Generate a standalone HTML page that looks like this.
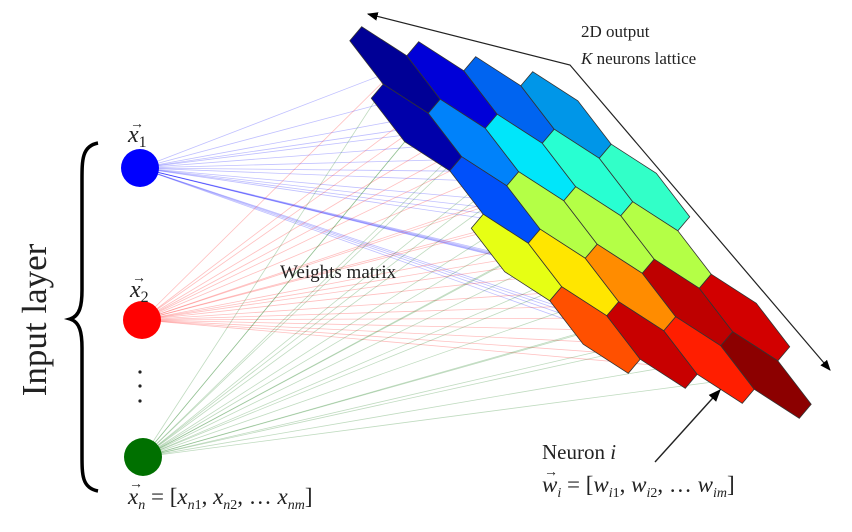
<!DOCTYPE html>
<html><head><meta charset="utf-8">
<style>
html,body{margin:0;padding:0;background:#fff;}
svg{display:block;font-family:"Liberation Serif",serif;}
</style></head>
<body>
<svg id="fig" width="852" height="532" viewBox="0 0 852 532" xmlns="http://www.w3.org/2000/svg">
<defs>
<marker id="ah" viewBox="0 0 10 10" refX="9" refY="5" markerWidth="9" markerHeight="9" orient="auto-start-reverse"><path d="M0,1 L10,5 L0,9 z" fill="#000"/></marker>
</defs>
<g id="links"></g>
<g id="lattice"></g>
<g id="nodes"></g>
<polyline points="368,14 570,65 830,370" fill="none" stroke="#222" stroke-width="1.2" marker-start="url(#ah)" marker-end="url(#ah)"/>
<line x1="655" y1="462" x2="720" y2="390" stroke="#222" stroke-width="1.4" marker-end="url(#ah)"/>
<path d="M98,143 C82,146 82,160 82,180 L82,290 C82,305 80,316 70,319 C80,322 82,333 82,348 L82,455 C82,475 82,488 98,491" fill="none" stroke="#000" stroke-width="3.5"/>
<text transform="translate(46,320) rotate(-90)" text-anchor="middle" font-size="35" fill="#222">Input layer</text>
<text x="128" y="142" font-size="24" font-style="italic" fill="#222">x<tspan font-size="16" font-style="normal" dy="5">1</tspan></text>
<text x="130" y="128" font-size="14" fill="#222">→</text>
<text x="130" y="297" font-size="24" font-style="italic" fill="#222">x<tspan font-size="16" font-style="normal" dy="5">2</tspan></text>
<text x="132" y="282" font-size="14" fill="#222">→</text>
<g fill="#222">
<circle cx="140" cy="372" r="1.6"/><circle cx="140" cy="386" r="1.6"/><circle cx="140" cy="401" r="1.6"/>
</g>
<text x="128" y="504" font-size="23" fill="#222"><tspan font-style="italic">x</tspan><tspan font-size="14" font-style="italic" dy="5">n</tspan><tspan dy="-5"> = [</tspan><tspan font-style="italic">x</tspan><tspan font-size="14" font-style="italic" dy="5">n</tspan><tspan font-size="14" dy="0">1</tspan><tspan dy="-5">, </tspan><tspan font-style="italic">x</tspan><tspan font-size="14" font-style="italic" dy="5">n</tspan><tspan font-size="14">2</tspan><tspan dy="-5">, … </tspan><tspan font-style="italic">x</tspan><tspan font-size="14" font-style="italic" dy="5">nm</tspan><tspan dy="-5">]</tspan></text>
<text x="129" y="488" font-size="14" fill="#222">→</text>
<text x="280" y="278" font-size="19" fill="#222">Weights matrix</text>
<text x="581" y="37" font-size="17" fill="#222">2D output</text>
<text x="581" y="64" font-size="17" fill="#222"><tspan font-style="italic">K</tspan> neurons lattice</text>
<text x="542" y="459" font-size="21" fill="#222">Neuron <tspan font-style="italic">i</tspan></text>
<text x="542" y="492" font-size="23" fill="#222"><tspan font-style="italic">w</tspan><tspan font-size="14" font-style="italic" dy="5">i</tspan><tspan dy="-5"> = [</tspan><tspan font-style="italic">w</tspan><tspan font-size="14" font-style="italic" dy="5">i</tspan><tspan font-size="14">1</tspan><tspan dy="-5">, </tspan><tspan font-style="italic">w</tspan><tspan font-size="14" font-style="italic" dy="5">i</tspan><tspan font-size="14">2</tspan><tspan dy="-5">, … </tspan><tspan font-style="italic">w</tspan><tspan font-size="14" font-style="italic" dy="5">im</tspan><tspan dy="-5">]</tspan></text>
<text x="544" y="476" font-size="14" fill="#222">→</text>
</svg>
<script>
const rowCounts=[4,5,4,5,4];
const cellColors=[
 "#000096","#0000d8","#0064f0","#0096e8",
 "#0000aa","#0082fa","#00e6fa","#28ffd2","#32ffc8",
 "#0050fa","#b4ff46","#b4ff46","#b4ff46",
 "#e6ff14","#ffe600","#ff8c00","#be0000","#d20000",
 "#ff5000","#c80000","#ff1e00","#8c0000"
];
const inputNodes=[{x:140,y:168,c:"#0000ff"},{x:142,y:320,c:"#ff0000"},{x:143,y:457,c:"#007000"}];
const NS="http://www.w3.org/2000/svg";
const O=[395,70], U=[57,15], W=[50,65];
function P(x,b){return [O[0]+x*U[0]+b*W[0], O[1]+x*U[1]+b*W[1]];}
const centers=[];
let k=0;
rowCounts.forEach((n,b)=>{const start=(n===5)?-0.5:0;for(let i=0;i<n;i++){centers.push({x:start+i,b:b,c:cellColors[k++]});}});
const links=document.getElementById('links');
inputNodes.forEach(nd=>{centers.forEach(ce=>{const p=P(ce.x,ce.b);
 const l=document.createElementNS(NS,'line');
 
 
 l.setAttribute('x1',nd.x);l.setAttribute('y1',nd.y);l.setAttribute('x2',p[0]);l.setAttribute('y2',p[1]);
 l.setAttribute('stroke',nd.c);l.setAttribute('stroke-opacity','0.25');l.setAttribute('stroke-width','0.8');
 links.appendChild(l);});});
const lat=document.getElementById('lattice');
const hv=[[0,-2/3],[0.5,-1/3],[0.5,1/3],[0,2/3],[-0.5,1/3],[-0.5,-1/3]];
centers.forEach(ce=>{
 const pts=hv.map(v=>P(ce.x+v[0],ce.b+v[1]).map(n=>n.toFixed(1)).join(',')).join(' ');
 const h=document.createElementNS(NS,'polygon');
 
 
 h.setAttribute('points',pts);h.setAttribute('fill',ce.c);h.setAttribute('stroke','#333');h.setAttribute('stroke-width','0.8');
 lat.appendChild(h);});
const nodes=document.getElementById('nodes');
inputNodes.forEach((nd,i)=>{const c=document.createElementNS(NS,'circle');
 
 
 c.setAttribute('cx',nd.x);c.setAttribute('cy',nd.y);c.setAttribute('r',19);c.setAttribute('fill',nd.c);
 nodes.appendChild(c);});
</script>
</body></html>
